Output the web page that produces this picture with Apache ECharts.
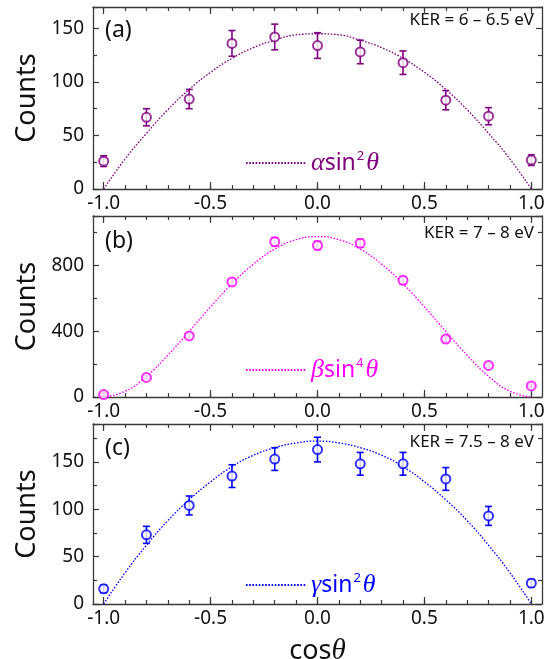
<!DOCTYPE html>
<html>
<head>
<meta charset="utf-8">
<script src="https://cdn.jsdelivr.net/npm/echarts@6/dist/echarts.min.js"></script>
<style>
  html, body { margin: 0; padding: 0; background: #fff; }
  #main { width: 550px; height: 659px; }
</style>
</head>
<body>
<div id="main"></div>
<script>
// measured points, cos(theta) from -1 to 1
const cosTheta = [-1.0, -0.8, -0.6, -0.4, -0.2, 0.0, 0.2, 0.4, 0.6, 0.8, 1.0];
const countsA = [26, 67, 84, 136, 142, 134, 128, 118, 83, 68, 27];
const errA = [5, 8, 9, 12, 12, 12, 11, 11, 9, 8, 5];
const countsB = [15, 119, 371, 699, 944, 921, 935, 709, 352, 192, 67];
const errB = [8, 10, 15, 20, 25, 25, 24, 22, 15, 12, 7];
const countsC = [16, 73, 104, 135, 153, 163, 148, 148, 132, 93, 22];
const errC = [4, 9, 10, 12, 12, 13, 12, 12, 12, 10, 4];

const fitX = [-1.0, -0.9, -0.8, -0.7, -0.6, -0.5, -0.4, -0.3, -0.2, -0.1, 0.0,
              0.1, 0.2, 0.3, 0.4, 0.5, 0.6, 0.7, 0.8, 0.9, 1.0];
const fitA = [0, 28, 52, 74, 93, 109, 122, 132, 139, 144, 145,
              144, 139, 132, 122, 109, 93, 74, 52, 28, 0];
const fitB = [0, 35, 126, 254, 399, 548, 688, 807, 899, 956, 975,
              956, 899, 807, 688, 548, 399, 254, 126, 35, 0];
const fitC = [0, 33, 62, 88, 110, 129, 145, 157, 165, 170, 172,
              170, 165, 157, 145, 129, 110, 88, 62, 33, 0];

const xLabels = [-1.0, -0.5, 0.0, 0.5, 1.0];
const xMinor = [-1.0, -0.9, -0.8, -0.7, -0.6, -0.5, -0.4, -0.3, -0.2, -0.1, 0.0,
                0.1, 0.2, 0.3, 0.4, 0.5, 0.6, 0.7, 0.8, 0.9, 1.0];

const panelTags = ['(a)', '(b)', '(c)'];
const kerTexts = ['KER = 6 \u2013 6.5 eV', 'KER = 7 \u2013 8 eV', 'KER = 7.5 \u2013 8 eV'];
const fitNames = ['\u03b1sin2\u03b8', '\u03b2sin4\u03b8', '\u03b3sin2\u03b8'];
const fitPower = ['2', '4', '2'];
const fitGreek = ['\u03b1', '\u03b2', '\u03b3'];
const yMax = [170, 1100, 190];
const yStep = [50, 400, 50];

const colors = ['#800080', '#ff00ff', '#0000ff'];
const panels = [
  { top: 7, height: 182, counts: countsA, err: errA, fit: fitA, legendTop: 145, tagTop: 19, kerTop: 12 },
  { top: 216, height: 181, counts: countsB, err: errB, fit: fitB, legendTop: 352, tagTop: 230, kerTop: 225 },
  { top: 424, height: 180, counts: countsC, err: errC, fit: fitC, legendTop: 567, tagTop: 437, kerTop: 434 }
];

const FONT = '"Noto Sans", "Liberation Sans", sans-serif';
const GREEK = '"Liberation Serif", "DejaVu Serif", serif';
const AXIS_COLOR = '#3a3a3a';

const grid = [], xAxis = [], yAxis = [], series = [], legend = [], graphic = [];

function xAxisBase(gi, position) {
  return {
    type: 'value', gridIndex: gi, position: position,
    min: -1.05, max: 1.05,
    splitLine: { show: false },
    axisLine: { show: false, onZero: false, lineStyle: { color: AXIS_COLOR, width: 1.3 } },
    axisTick: { show: false },
    axisLabel: { show: false }
  };
}

panels.forEach(function (p, i) {
  grid.push({ left: 93, right: 8, top: p.top, height: p.height, outerBoundsMode: 'none' });

  // bottom: line, major ticks and labels
  const bottom = xAxisBase(i, 'bottom');
  bottom.axisLine.show = true;
  bottom.axisTick = { show: true, inside: true, length: 7, customValues: xLabels,
                      lineStyle: { color: AXIS_COLOR, width: 1.2 } };
  bottom.axisLabel = { show: true, customValues: xLabels, margin: 5,
                       fontFamily: FONT, fontSize: 19, color: '#111',
                       formatter: function (v) { return v.toFixed(1); } };
  if (i === 2) {
    bottom.name = 'cos{t|\u03b8}';
    bottom.nameLocation = 'middle';
    bottom.nameGap = 33;
    bottom.nameTextStyle = { fontFamily: FONT, fontSize: 27, color: '#111',
                             rich: { t: { fontFamily: GREEK, fontSize: 29, fontStyle: 'italic', color: '#111' } } };
  }
  xAxis.push(bottom);
  // bottom minor ticks
  const bottomMinor = xAxisBase(i, 'bottom');
  bottomMinor.axisTick = { show: true, inside: true, length: 4, customValues: xMinor,
                           lineStyle: { color: AXIS_COLOR, width: 1.2 } };
  xAxis.push(bottomMinor);
  // top frame with ticks
  const top = xAxisBase(i, 'top');
  top.axisLine.show = true;
  top.axisTick = { show: true, inside: true, length: 7, customValues: xLabels,
                   lineStyle: { color: AXIS_COLOR, width: 1.2 } };
  xAxis.push(top);
  const topMinor = xAxisBase(i, 'top');
  topMinor.axisTick = { show: true, inside: true, length: 4, customValues: xMinor,
                        lineStyle: { color: AXIS_COLOR, width: 1.2 } };
  xAxis.push(topMinor);

  const yCommon = {
    type: 'value', gridIndex: i, min: 0, max: yMax[i], interval: yStep[i],
    splitLine: { show: false },
    axisLine: { show: true, onZero: false, lineStyle: { color: AXIS_COLOR, width: 1.3 } },
    axisTick: { show: true, inside: true, length: 6, lineStyle: { color: AXIS_COLOR, width: 1.2 } },
    minorTick: { show: true, splitNumber: 2, length: 4, lineStyle: { color: AXIS_COLOR, width: 1.2 } }
  };
  yAxis.push(Object.assign({}, yCommon, {
    position: 'left',
    name: 'Counts', nameLocation: 'middle', nameGap: 52,
    nameTextStyle: { fontFamily: FONT, fontSize: 27, color: '#111' },
    axisLabel: { show: true, margin: 9, fontFamily: FONT, fontSize: 19, color: '#111',
                 showMaxLabel: false }
  }));
  yAxis.push(Object.assign({}, yCommon, {
    position: 'right', axisLabel: { show: false }
  }));

  const xi = i * 4, yi = i * 2;
  const c = colors[i];

  series.push({
    name: fitNames[i], type: 'line', xAxisIndex: xi, yAxisIndex: yi,
    data: fitX.map(function (x, k) { return [x, p.fit[k]]; }),
    smooth: true, symbol: 'none', z: 2,
    lineStyle: { color: c, width: 1.3, type: [1.6, 1.6] },
    itemStyle: { color: c }
  });

  series.push({
    type: 'custom', xAxisIndex: xi, yAxisIndex: yi, z: 3,
    data: cosTheta.map(function (x, k) { return [x, p.counts[k] - p.err[k], p.counts[k] + p.err[k]]; }),
    renderItem: function (params, api) {
      const lo = api.coord([api.value(0), api.value(1)]);
      const hi = api.coord([api.value(0), api.value(2)]);
      const w = 3.5;
      const st = { stroke: c, lineWidth: 1.6 };
      return {
        type: 'group',
        children: [
          { type: 'line', shape: { x1: lo[0], y1: lo[1], x2: hi[0], y2: hi[1] }, style: st },
          { type: 'line', shape: { x1: lo[0] - w, y1: lo[1], x2: lo[0] + w, y2: lo[1] }, style: st },
          { type: 'line', shape: { x1: hi[0] - w, y1: hi[1], x2: hi[0] + w, y2: hi[1] }, style: st }
        ]
      };
    }
  });

  series.push({
    type: 'scatter', xAxisIndex: xi, yAxisIndex: yi, z: 4,
    data: cosTheta.map(function (x, k) { return [x, p.counts[k]]; }),
    symbol: 'circle', symbolSize: 9,
    itemStyle: { color: '#fff', borderColor: c, borderWidth: 2 }
  });

  legend.push({
    data: [fitNames[i]], left: 240, top: p.legendTop,
    itemWidth: 60, itemHeight: 14, selectedMode: false,
    itemStyle: { opacity: 0 },
    formatter: function () {
      return '{g|' + fitGreek[i] + '}{s|sin}{p|' + fitPower[i] + '}{g|\u03b8}';
    },
    textStyle: {
      color: c,
      rich: {
        g: { fontFamily: GREEK, fontSize: 26, fontStyle: 'italic', color: c },
        s: { fontFamily: FONT, fontSize: 23, color: c },
        p: { fontFamily: FONT, fontSize: 13, color: c, verticalAlign: 'top', padding: [0, 2, 0, 1] }
      }
    }
  });

  graphic.push({
    type: 'text', left: 105, top: p.tagTop,
    style: { text: panelTags[i], font: '23px ' + FONT, fill: '#111' }
  });
  graphic.push({
    type: 'text', right: 16, top: p.kerTop,
    style: { text: kerTexts[i], font: '17px ' + FONT, fill: '#111' }
  });
});

const chart = echarts.init(document.getElementById('main'), null, { renderer: 'canvas' });
chart.setOption({
  animation: false,
  backgroundColor: '#fff',
  grid: grid,
  xAxis: xAxis,
  yAxis: yAxis,
  legend: legend,
  graphic: graphic,
  series: series
});
</script>
</body>
</html>
